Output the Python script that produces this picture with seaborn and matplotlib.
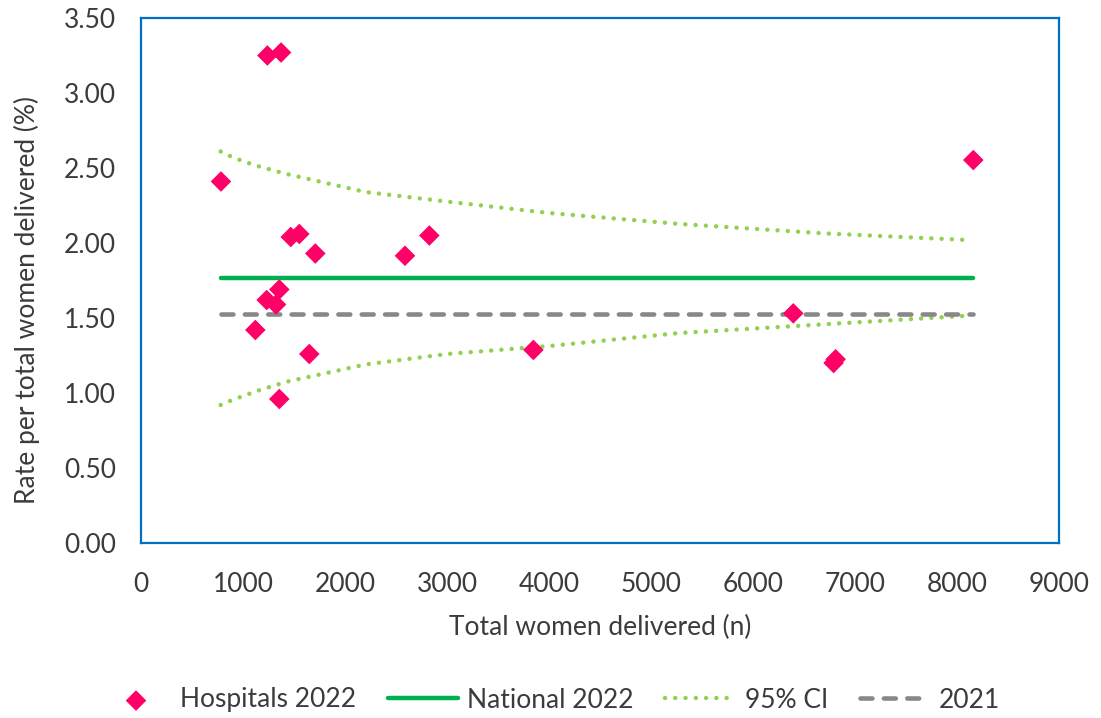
import matplotlib
matplotlib.use("Agg")
import matplotlib.pyplot as plt
import seaborn as sns
import pandas as pd
import numpy as np

# ---- data ----
hosp_n = [784, 1121, 1232, 1239, 1324, 1356, 1356, 1373, 1468, 1552,
          1650, 1709, 2588, 2827, 3847, 6395, 6790, 6810, 8160]
hosp_rate = [2.41, 1.42, 1.62, 3.25, 1.59, 1.69, 0.96, 3.27, 2.04, 2.06,
             1.26, 1.93, 1.915, 2.05, 1.287, 1.531, 1.20, 1.225, 2.553]

line_n = [780, 8160]
national_2022 = [1.765, 1.765]
rate_2021 = [1.53, 1.53]

ci_n = [781, 873, 1000, 1144, 1427, 2200, 3000, 4000, 5280, 6700, 8100]
ci_upper = [2.61, 2.58, 2.545, 2.513, 2.46, 2.34, 2.276, 2.20, 2.127, 2.064, 2.02]
ci_lower = [0.92, 0.947, 0.98, 1.015, 1.075, 1.19, 1.26, 1.313, 1.40, 1.458, 1.515]

x_ticks = [0, 1000, 2000, 3000, 4000, 5000, 6000, 7000, 8000, 9000]
y_ticks = [0.0, 0.5, 1.0, 1.5, 2.0, 2.5, 3.0, 3.5]

# ---- style ----
sns.set_style("white")
plt.rcParams['font.family'] = ['Lato', 'DejaVu Sans']
TXT = '#3b3b3b'
FS = 19

fig = plt.figure(figsize=(11.01, 7.18), dpi=100)
ax = fig.add_axes([141 / 1101, 1 - 543 / 718, (1059 - 141) / 1101, (543 - 18) / 718])

df_h = pd.DataFrame({'n': hosp_n, 'rate': hosp_rate})
df_nat = pd.DataFrame({'n': line_n, 'rate': national_2022})
df_21 = pd.DataFrame({'n': line_n, 'rate': rate_2021})
df_up = pd.DataFrame({'n': ci_n, 'rate': ci_upper})
df_lo = pd.DataFrame({'n': ci_n, 'rate': ci_lower})

dot_style = dict(color='#92D050', lw=3.2, linestyle=(0, (0.01, 2.3)),
                 dash_capstyle='round')

sns.lineplot(data=df_up, x='n', y='rate', ax=ax, label='95% CI', **dot_style)
sns.lineplot(data=df_lo, x='n', y='rate', ax=ax, label='_nolegend_', **dot_style)
sns.lineplot(data=df_nat, x='n', y='rate', ax=ax, label='National 2022',
             color='#00B050', lw=3.2, solid_capstyle='round')
sns.lineplot(data=df_21, x='n', y='rate', ax=ax, label='2021',
             color='#888888', lw=3.3, linestyle=(0, (2.6, 2.5)),
             dash_capstyle='round')
sns.scatterplot(data=df_h, x='n', y='rate', ax=ax, label='Hospitals 2022',
                marker='D', s=110, color='#FF0066', edgecolor='none',
                zorder=5)

ax.set_xlim(0, 9000)
ax.set_ylim(0, 3.5)
ax.set_xticks(x_ticks)
ax.set_xticklabels([str(t) for t in x_ticks])
ax.set_yticks(y_ticks)
ax.set_yticklabels([f"{t:.2f}" for t in y_ticks])
ax.tick_params(axis='both', length=0, labelsize=FS, labelcolor=TXT)
ax.tick_params(axis='x', pad=21)
ax.tick_params(axis='y', pad=18)
ax.grid(False)
for sp in ax.spines.values():
    sp.set_visible(True)
    sp.set_color('#0070C0')
    sp.set_linewidth(1.6)

ax.set_xlabel('Total women delivered (n)', fontsize=FS, color=TXT, labelpad=13)
ax.set_ylabel('Rate per total women delivered (%)', fontsize=FS, color=TXT)
ax.yaxis.set_label_coords(-(141 - 40) / 918, (543 - 300) / 525)

handles, labels = ax.get_legend_handles_labels()
if ax.get_legend() is not None:
    ax.get_legend().remove()
order = ['Hospitals 2022', 'National 2022', '95% CI', '2021']
hmap = dict(zip(labels, handles))
fig.legend([hmap[k] for k in order], order, loc='center',
           bbox_to_anchor=(0.5, 1 - 700 / 718), ncol=4, frameon=False,
           fontsize=FS, labelcolor=TXT, handlelength=2.65, handletextpad=0.35,
           columnspacing=1.2)

fig.savefig('out.png', dpi=100)
